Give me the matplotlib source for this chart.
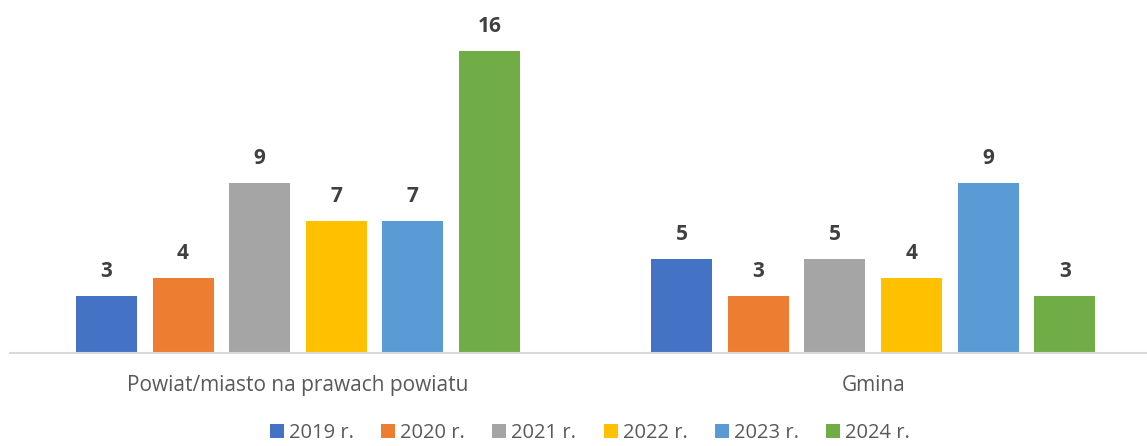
import matplotlib
matplotlib.use("Agg")
import matplotlib.pyplot as plt
import numpy as np

categories = ["Powiat/miasto na prawach powiatu", "Gmina"]
series_names = ["2019 r.", "2020 r.", "2021 r.", "2022 r.", "2023 r.", "2024 r."]
values = {
    "2019 r.": [3, 5],
    "2020 r.": [4, 3],
    "2021 r.": [9, 5],
    "2022 r.": [7, 4],
    "2023 r.": [7, 9],
    "2024 r.": [16, 3],
}
colors = ["#4472C4", "#ED7D31", "#A5A5A5", "#FFC000", "#5B9BD5", "#70AD47"]

plt.rcParams["font.family"] = ["Open Sans", "DejaVu Sans"]

W, H = 1147, 446
fig = plt.figure(figsize=(W / 100, H / 100), dpi=100)
ax = fig.add_axes([10 / W, (H - 353) / H, (W - 10) / W, 353 / H])

centers = np.array([0.0, 7.51])
width = 0.797
n = len(series_names)
for i, (name, col) in enumerate(zip(series_names, colors)):
    x = centers + (i - (n - 1) / 2)
    bars = ax.bar(x, values[name], width=width, color=col, label=name, zorder=2)
    for rect, v in zip(bars, values[name]):
        ax.annotate(str(v), (rect.get_x() + rect.get_width() / 2, v),
                    xytext=(0, 10), textcoords="offset points",
                    ha="center", va="bottom", fontsize=15, fontweight="bold",
                    color="#404040")

ax.set_xlim((10 - 298) / 76.6, (1147 - 298) / 76.6)
ax.set_ylim(0, 353 / 18.875)
for s in ["top", "right", "left"]:
    ax.spines[s].set_visible(False)
ax.spines["bottom"].set_color("#D9D9D9")
ax.spines["bottom"].set_linewidth(1.5)
ax.set_yticks([])
ax.set_xticks(centers)
ax.set_xticklabels(categories, fontsize=15, color="#595959")
ax.tick_params(axis="x", length=0, pad=16)

leg = fig.legend(loc="center", bbox_to_anchor=(590 / W, 1 - 433 / H), ncol=6,
                 frameon=False, fontsize=14.5, handlelength=0.7, handleheight=0.7,
                 handletextpad=0.25, columnspacing=1.35)
for t in leg.get_texts():
    t.set_color("#595959")

fig.savefig("out.png", dpi=100)
